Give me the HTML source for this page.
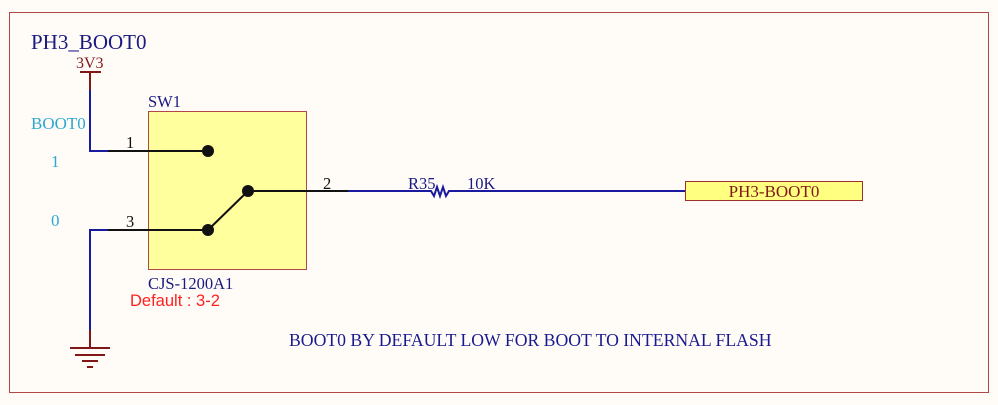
<!DOCTYPE html>
<html><head><style>body{margin:0;background:#fff}svg{display:block}</style></head><body>
<svg width="998" height="405" xmlns="http://www.w3.org/2000/svg" font-family="Liberation Serif, serif">
<rect x="0" y="0" width="998" height="405" fill="#fffcf8"/>
<rect x="9.5" y="12.5" width="979" height="380" fill="none" stroke="#b04848" stroke-width="1"/>
<rect x="148.5" y="111.5" width="158" height="158" fill="#ffff9e" stroke="#b04848"/>
<text x="31" y="49" font-size="21" fill="#1a1a80">PH3_BOOT0</text>
<text x="76" y="68" font-size="16" fill="#801818">3V3</text>
<line x1="80" y1="72" x2="101" y2="72" stroke="#801818" stroke-width="2"/>
<line x1="90" y1="72" x2="90" y2="90" stroke="#801818" stroke-width="2"/>
<polyline points="90,90 90,151 108,151" fill="none" stroke="#1a1aa0" stroke-width="2"/>
<line x1="108" y1="151" x2="208" y2="151" stroke="#111" stroke-width="2"/>
<polyline points="90,330 90,230 108,230" fill="none" stroke="#1a1aa0" stroke-width="2"/>
<line x1="108" y1="230" x2="208" y2="230" stroke="#111" stroke-width="2"/>
<line x1="208" y1="230" x2="248" y2="191" stroke="#111" stroke-width="2"/>
<line x1="248" y1="191" x2="348" y2="191" stroke="#111" stroke-width="2"/>
<circle cx="208" cy="151" r="6" fill="#111"/>
<circle cx="208" cy="230" r="6" fill="#111"/>
<circle cx="248" cy="191" r="6" fill="#111"/>
<line x1="348" y1="191" x2="427" y2="191" stroke="#1a1aa0" stroke-width="2"/>
<polyline points="427,191 431,191 434,196 437,187 440,196 443,187 446,196 449,191 468,191 686,191" fill="none" stroke="#1a1aa0" stroke-width="2"/>
<rect x="685.5" y="181.5" width="177" height="19" fill="#ffff80" stroke="#a03030"/>
<text x="774" y="197" font-size="17" fill="#801818" text-anchor="middle">PH3-BOOT0</text>
<line x1="90" y1="330" x2="90" y2="348" stroke="#801818" stroke-width="2"/>
<line x1="70" y1="348" x2="110" y2="348" stroke="#801818" stroke-width="2"/>
<line x1="75" y1="355" x2="105" y2="355" stroke="#801818" stroke-width="2"/>
<line x1="82" y1="361" x2="98" y2="361" stroke="#801818" stroke-width="2"/>
<line x1="87" y1="367" x2="93" y2="367" stroke="#801818" stroke-width="2"/>
<text x="31" y="129" font-size="17" fill="#2aa8d0">BOOT0</text>
<text x="51" y="167" font-size="17" fill="#2aa8d0">1</text>
<text x="51" y="226" font-size="17" fill="#2aa8d0">0</text>
<text x="148" y="107" font-size="16.5" fill="#1a1a80">SW1</text>
<text x="126" y="148" font-size="16.5" fill="#111">1</text>
<text x="126" y="227" font-size="16.5" fill="#111">3</text>
<text x="323" y="189" font-size="16.5" fill="#111">2</text>
<text x="408" y="189" font-size="16.5" fill="#1a1a80">R35</text>
<text x="467" y="189" font-size="16.5" fill="#1a1a80">10K</text>
<text x="148" y="289" font-size="16.5" fill="#1a1a80">CJS-1200A1</text>
<text x="130" y="306" font-size="16.5" fill="#ff2020" font-family="Liberation Sans, sans-serif">Default : 3-2</text>
<text x="289" y="346" font-size="17.7" fill="#1a1a90">BOOT0 BY DEFAULT LOW FOR BOOT TO INTERNAL FLASH</text>
</svg>
</body></html>
